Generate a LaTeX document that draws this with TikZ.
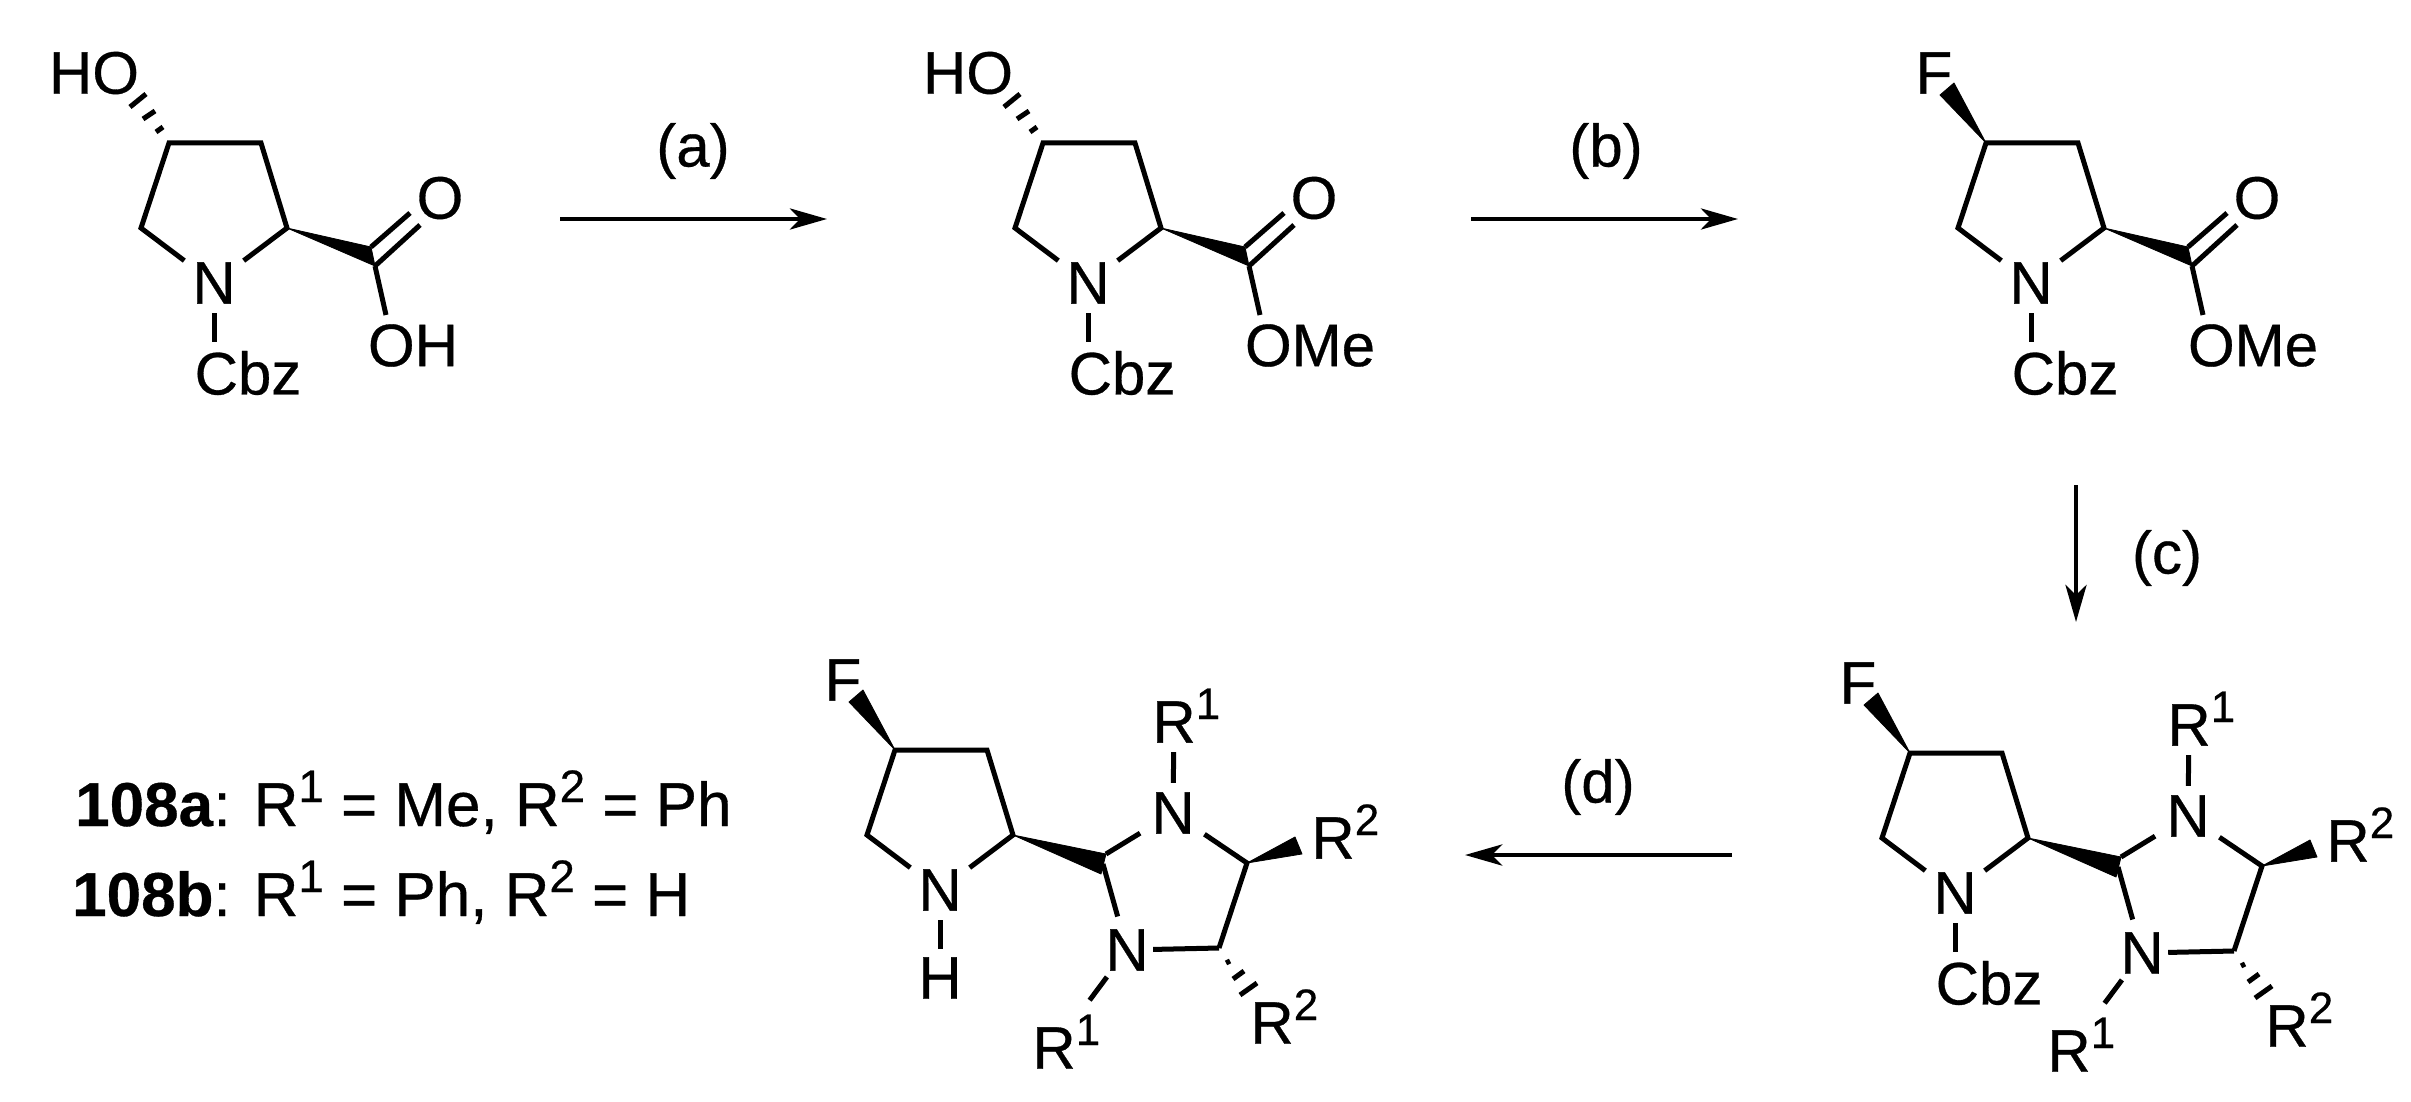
\documentclass[tikz,border=0pt]{standalone}
\usepackage{fontspec}
\setmainfont[FakeBold=0.5]{Liberation Sans}
\usetikzlibrary{arrows.meta,shapes.geometric}
\newcommand\chemfont{\fontsize{60}{60}\selectfont}
\newcommand\supfont{\fontsize{44}{44}\selectfont}
\newcommand\legfont{\fontsize{62}{62}\selectfont}
\newcommand\legsup[1]{\raisebox{24pt}{\fontsize{45.5}{45.5}\selectfont #1}}
\tikzset{
  bond/.style={line width=5pt},
  hashb/.style={line width=5pt},
  wedgeb/.style={fill=black,draw=black,line width=0.8pt,line join=round},
  atom/.style={ellipse,inner sep=0pt,minimum width=88pt,minimum height=60pt,font=\chemfont},
  txt/.style={inner sep=0pt,font=\chemfont},
  legtxt/.style={inner sep=0pt,font=\legfont,anchor=base west},
  supnum/.style={inner sep=0pt,font=\supfont,anchor=base},
  rxn/.style={line width=4.8pt,-{Stealth[length=37pt,width=21pt,inset=10pt]}}
}
% pyrrolidine ring, origin at C4
\newcommand\ringcore[1]{%
  \coordinate (#1c4) at (0,0);
  \coordinate (#1c3) at (92,0);
  \coordinate (#1c2) at (118,85);
  \coordinate (#1c5) at (-28,85);
  \node[atom] (#1n) at (45,140) {N};
  \draw[bond] (#1n) -- (#1c5) -- (#1c4) -- (#1c3) -- (#1c2) -- (#1n);
}
\newcommand\hashHO[1]{%
  \node[txt] (#1ho) at (-75,-70) {HO};
  \coordinate (#1ha) at (-13,-11); \coordinate (#1hb) at (-6,-16);
  \coordinate (#1hc) at (-26,-24); \coordinate (#1hd) at (-14,-32);
  \coordinate (#1he) at (-39,-36); \coordinate (#1hf) at (-23,-49);
  \draw[hashb] (#1ha) -- (#1hb) (#1hc) -- (#1hd) (#1he) -- (#1hf);
}
\newcommand\wedgeF[1]{%
  \node[txt] (#1f) at (-52,-70) {F};
  \coordinate (#1fa) at (-46,-48); \coordinate (#1fb) at (-32,-60);
  \fill[wedgeb] (#1c4) -- (#1fa) -- (#1fb) -- cycle;
}
\newcommand\cbz[1]{%
  \node[txt] (#1cbz) at (79,230) {Cbz};
  \draw[bond,shorten >=9pt] (#1n) -- (#1n |- #1cbz.north);
}
% ester or acid side chain: #2 is the label, #3 its x
\newcommand\carboxyl[3]{%
  \coordinate (#1c8) at (206,123);
  \coordinate (#1c8b) at (202,104);
  \coordinate (#1oa) at (241,70);
  \coordinate (#1ob) at (251,82);
  \node[txt] (#1o) at (271,55) {O};
  \node[txt] (#1or) at (#3,202.5) {#2};
  \coordinate (#1orb) at (217,172);
  \fill[wedgeb] (#1c2) -- (#1c8b) -- (#1c8) -- cycle;
  \draw[bond] (#1c8b) -- (#1oa) (#1c8) -- (#1ob) (#1c8) -- (#1orb);
}
% imidazolidine part
\newcommand\imid[1]{%
  \coordinate (#1ci) at (208,114);
  \coordinate (#1cia) at (211,104);
  \coordinate (#1cib) at (206,124);
  \coordinate (#1c5i) at (352,113);
  \coordinate (#1c4i) at (324,198);
  \coordinate (#1wa) at (400,87);
  \coordinate (#1wb) at (407,104);
  \node[atom] (#1nu) at (278,63) {N};
  \node[atom] (#1nl) at (232,200) {N};
  \node[atom] (#1ru) at (279,-28) {R};
  \node[supnum] (#1rus) at (313,-31) {1};
  \node[atom] (#1rr) at (438,88) {R};
  \node[supnum] (#1rrs) at (472,85) {2};
  \node[atom] (#1rl) at (159,298) {R};
  \node[supnum] (#1rls) at (193,295) {1};
  \node[atom] (#1rh) at (377,273) {R};
  \node[supnum] (#1rhs) at (411,270) {2};
  \fill[wedgeb] (#1c2) -- (#1cia) -- (#1cib) -- cycle;
  \fill[wedgeb] (#1c5i) -- (#1wa) -- (#1wb) -- cycle;
  \draw[bond] (#1cia) -- (#1nu);
  \draw[bond] (#1nu) -- (#1c5i) -- (#1c4i);
  \draw[bond,shorten >=-18pt] (#1c4i) -- (#1nl);
  \draw[bond,shorten >=4pt] (#1ci) -- (#1nl);
  \draw[bond] (#1nu) -- (#1ru);
  \draw[bond,shorten >=26pt] (#1nl) -- (#1rl);
  \coordinate (#1ha) at (331,213); \coordinate (#1hb) at (335,211);
  \coordinate (#1hc) at (338,229); \coordinate (#1hd) at (349,221);
  \coordinate (#1he) at (345,245); \coordinate (#1hf) at (362,233);
  \draw[hashb] (#1ha) -- (#1hb) (#1hc) -- (#1hd) (#1he) -- (#1hf);
}
\begin{document}
\begin{tikzpicture}[x=1pt,y=-1pt]
\useasboundingbox (0,0) rectangle (2411,1102);
\fill[white] (0,0) rectangle (2411,1102);

\begin{scope}[shift={(169,143)}]
  \ringcore{a}\hashHO{a}\cbz{a}\carboxyl{a}{OH}{244}
\end{scope}
\begin{scope}[shift={(1043,143)}]
  \ringcore{b}\hashHO{b}\cbz{b}\carboxyl{b}{OMe}{267}
\end{scope}
\begin{scope}[shift={(1986,143)}]
  \ringcore{c}\wedgeF{c}\cbz{c}\carboxyl{c}{OMe}{267}
\end{scope}
\begin{scope}[shift={(1910,753)}]
  \ringcore{e}\wedgeF{e}\cbz{e}\imid{e}
\end{scope}
\begin{scope}[shift={(895,750)}]
  \ringcore{d}\wedgeF{d}\imid{d}
  \node[txt] (dh) at (45,228) {H};
  \draw[bond,shorten >=8pt] (dn) -- (dn |- dh.north);
\end{scope}

% reaction arrows
\coordinate (a1) at (560,219); \coordinate (a2) at (827,219);
\coordinate (b1) at (1471,219); \coordinate (b2) at (1738,219);
\coordinate (c1) at (2076,485); \coordinate (c2) at (2076,622);
\coordinate (d1) at (1732,855); \coordinate (d2) at (1465,855);
\draw[rxn] (a1) -- (a2);
\draw[rxn] (b1) -- (b2);
\draw[rxn] (c1) -- (c2);
\draw[rxn] (d1) -- (d2);
\node[txt] (la) at (693,151) {(a)};
\node[txt] (lb) at (1606,151) {(b)};
\node[txt] (lc) at (2167,558) {(c)};
\node[txt] (ld) at (1598,787) {(d)};

% legend
\node[legtxt] (leg1) at (75,826) {\textbf{108a}: R\legsup{1} = Me, R\legsup{2} = Ph};
\node[legtxt] (leg2) at (72,916) {\textbf{108b}: R\legsup{1} = Ph, R\legsup{2} = H};
\end{tikzpicture}
\end{document}
